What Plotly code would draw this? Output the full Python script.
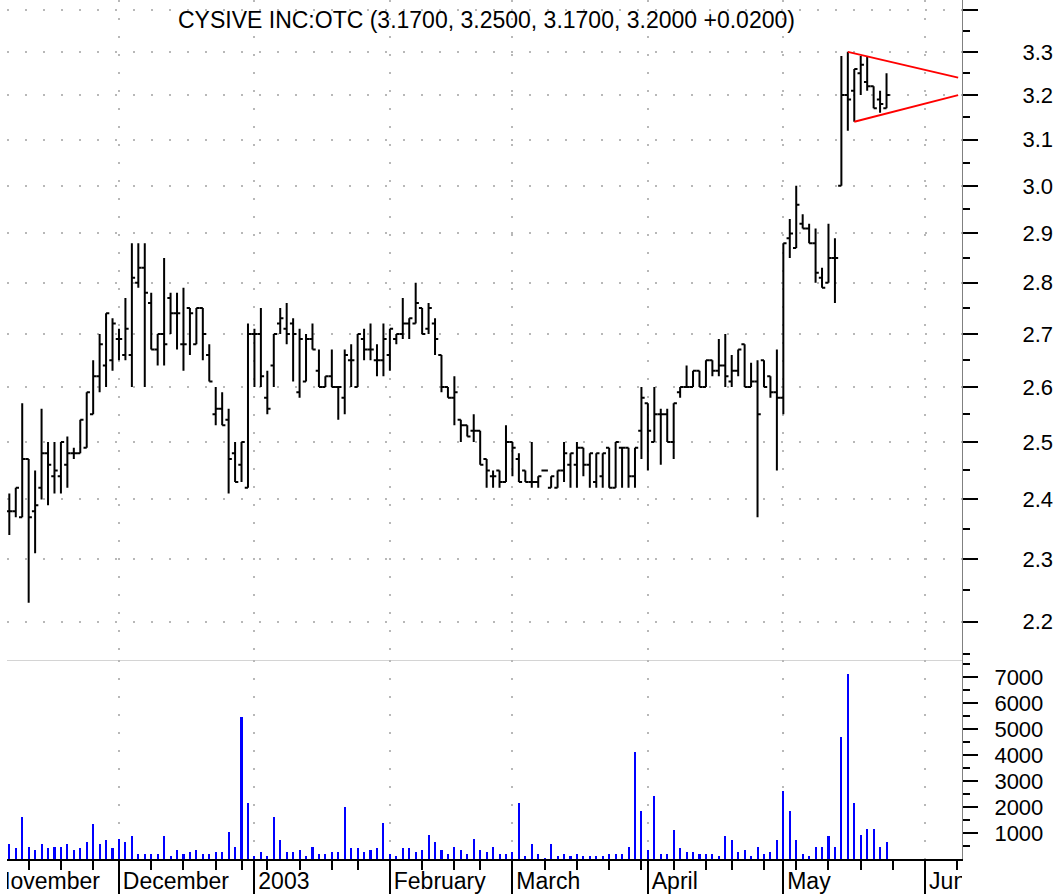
import numpy as np
import pandas as pd
import plotly.graph_objects as go

# ---------------- data ----------------
title_text = "CYSIVE INC:OTC (3.1700, 3.2500, 3.1700, 3.2000 +0.0200)"

first_date = "2002-11-06"
last_date = "2003-05-23"
calendar_start = "2002-11-01"
calendar_end = "2003-06-13"
holidays = ["2002-11-28", "2002-12-25", "2003-01-01", "2003-01-20", "2003-02-17", "2003-04-18"]

open_ = [2.38, 2.38, 2.37, 2.47, 2.38, 2.42, 2.48, 2.44, 2.44, 2.46,
         2.48, 2.48, 2.49, 2.55, 2.62, 2.64, 2.65, 2.69, 2.66, 2.66,
         2.80, 2.83, 2.76, 2.67, 2.70, 2.77, 2.74, 2.68, 2.75, 2.68,
         2.75, 2.66, 2.55, 2.56, 2.54, 2.48, 2.46, 2.42, 2.70, 2.70,
         2.58, 2.64, 2.72, 2.71, 2.72, 2.59, 2.61, 2.69, 2.63, 2.60,
         2.62, 2.60, 2.58, 2.65, 2.60, 2.69, 2.67, 2.65, 2.65, 2.66,
         2.69, 2.70, 2.72, 2.72, 2.75, 2.71, 2.72, 2.66, 2.60, 2.58,
         2.54, 2.53, 2.52, 2.52, 2.47, 2.44, 2.45, 2.43, 2.50, 2.47,
         2.45, 2.43, 2.43, 2.45, 2.42, 2.42, 2.45, 2.46, 2.46, 2.49,
         2.46, 2.43, 2.44, 2.49, 2.42, 2.49, 2.49, 2.44, 2.52, 2.57,
         2.50, 2.55, 2.55, 2.50, 2.59, 2.60, 2.60, 2.63, 2.60, 2.65,
         2.63, 2.64, 2.61, 2.63, 2.68, 2.60, 2.61, 2.65, 2.62, 2.59,
         2.58, 2.89, 2.87, 2.92, 2.91, 2.88, 2.81, 2.80, 2.85, 3.00,
         3.20, 3.21, 3.25, 3.23, 3.22, 3.19, 3.17]
high = [2.41, 2.42, 2.57, 2.47, 2.45, 2.56, 2.50, 2.50, 2.50, 2.51,
        2.49, 2.54, 2.59, 2.65, 2.70, 2.74, 2.73, 2.71, 2.77, 2.88,
        2.88, 2.88, 2.78, 2.70, 2.85, 2.78, 2.78, 2.79, 2.75, 2.75,
        2.75, 2.68, 2.60, 2.59, 2.56, 2.50, 2.50, 2.72, 2.71, 2.75,
        2.63, 2.70, 2.75, 2.76, 2.73, 2.71, 2.70, 2.72, 2.67, 2.62,
        2.67, 2.60, 2.67, 2.68, 2.70, 2.71, 2.72, 2.68, 2.72, 2.71,
        2.70, 2.77, 2.73, 2.80, 2.75, 2.76, 2.73, 2.66, 2.60, 2.62,
        2.54, 2.53, 2.55, 2.52, 2.47, 2.45, 2.45, 2.53, 2.50, 2.48,
        2.45, 2.50, 2.44, 2.45, 2.44, 2.45, 2.50, 2.48, 2.50, 2.49,
        2.48, 2.48, 2.48, 2.49, 2.50, 2.49, 2.49, 2.49, 2.60, 2.57,
        2.60, 2.56, 2.56, 2.57, 2.60, 2.64, 2.63, 2.63, 2.65, 2.65,
        2.69, 2.70, 2.66, 2.67, 2.68, 2.645, 2.65, 2.65, 2.62, 2.67,
        2.88, 2.93, 3.00, 2.94, 2.92, 2.91, 2.83, 2.92, 2.89, 3.29,
        3.30, 3.26, 3.29, 3.29, 3.22, 3.21, 3.25]
low = [2.34, 2.37, 2.37, 2.23, 2.31, 2.40, 2.39, 2.41, 2.41, 2.42,
       2.47, 2.48, 2.49, 2.55, 2.59, 2.60, 2.63, 2.65, 2.65, 2.60,
       2.79, 2.60, 2.67, 2.64, 2.64, 2.70, 2.67, 2.63, 2.66, 2.68,
       2.65, 2.61, 2.53, 2.53, 2.41, 2.43, 2.43, 2.42, 2.60, 2.60,
       2.55, 2.60, 2.70, 2.68, 2.61, 2.58, 2.61, 2.67, 2.60, 2.60,
       2.60, 2.54, 2.55, 2.60, 2.60, 2.65, 2.65, 2.62, 2.62, 2.63,
       2.68, 2.69, 2.69, 2.72, 2.70, 2.70, 2.66, 2.59, 2.58, 2.53,
       2.50, 2.51, 2.50, 2.46, 2.42, 2.42, 2.42, 2.43, 2.44, 2.43,
       2.43, 2.42, 2.42, 2.45, 2.42, 2.42, 2.43, 2.42, 2.42, 2.44,
       2.42, 2.42, 2.42, 2.42, 2.42, 2.42, 2.42, 2.42, 2.47, 2.45,
       2.50, 2.46, 2.50, 2.47, 2.58, 2.60, 2.60, 2.60, 2.60, 2.62,
       2.62, 2.60, 2.60, 2.62, 2.60, 2.60, 2.37, 2.60, 2.58, 2.45,
       2.55, 2.85, 2.87, 2.91, 2.88, 2.80, 2.79, 2.80, 2.76, 3.00,
       3.12, 3.14, 3.20, 3.21, 3.17, 3.16, 3.17]
close = [2.38, 2.42, 2.47, 2.37, 2.39, 2.48, 2.46, 2.45, 2.50, 2.48,
         2.48, 2.54, 2.59, 2.62, 2.68, 2.74, 2.72, 2.69, 2.71, 2.81,
         2.83, 2.78, 2.67, 2.70, 2.68, 2.74, 2.74, 2.68, 2.74, 2.75,
         2.70, 2.61, 2.56, 2.53, 2.47, 2.43, 2.50, 2.70, 2.70, 2.62,
         2.56, 2.70, 2.73, 2.70, 2.70, 2.69, 2.69, 2.67, 2.60, 2.62,
         2.60, 2.60, 2.66, 2.65, 2.70, 2.67, 2.67, 2.65, 2.69, 2.71,
         2.70, 2.72, 2.73, 2.76, 2.70, 2.75, 2.69, 2.60, 2.58, 2.59,
         2.53, 2.51, 2.52, 2.46, 2.45, 2.44, 2.43, 2.50, 2.49, 2.43,
         2.43, 2.43, 2.44, 2.45, 2.44, 2.45, 2.48, 2.48, 2.49, 2.46,
         2.48, 2.48, 2.48, 2.42, 2.50, 2.49, 2.44, 2.49, 2.58, 2.52,
         2.55, 2.55, 2.50, 2.57, 2.60, 2.60, 2.63, 2.60, 2.65, 2.63,
         2.64, 2.62, 2.63, 2.67, 2.60, 2.61, 2.55, 2.60, 2.59, 2.58,
         2.88, 2.90, 2.96, 2.91, 2.88, 2.82, 2.79, 2.85, 2.85, 3.20,
         3.19, 3.26, 3.27, 3.22, 3.17, 3.18, 3.20]
volume = [570, 420, 1630, 480, 330, 570, 420, 480, 480, 570,
          330, 420, 640, 1330, 570, 720, 420, 780, 640, 870,
          200, 200, 200, 200, 870, 120, 330, 200, 260, 330,
          200, 200, 260, 260, 1030, 480, 5460, 2150, 120, 260,
          120, 1630, 720, 260, 260, 330, 120, 480, 200, 200,
          260, 260, 2010, 420, 420, 260, 330, 420, 1400, 200,
          120, 420, 420, 260, 330, 940, 640, 330, 200, 480,
          330, 200, 780, 330, 260, 480, 200, 200, 260, 2150,
          120, 570, 200, 50, 570, 120, 200, 120, 200, 120,
          120, 120, 120, 200, 200, 200, 480, 4110, 1850, 330,
          2440, 200, 200, 1100, 420, 260, 260, 200, 200, 200,
          120, 870, 720, 260, 330, 120, 480, 200, 260, 720,
          2600, 1850, 720, 200, 120, 480, 480, 870, 480, 4690,
          7130, 2150, 940, 1170, 1170, 480, 640]

month_names = {11: "November", 12: "December", 1: "2003", 2: "February",
               3: "March", 4: "April", 5: "May", 6: "June"}

price_ticks = [2.2, 2.3, 2.4, 2.5, 2.6, 2.7, 2.8, 2.9, 3.0, 3.1, 3.2, 3.3, 3.4]
price_ticktext = ["2.2", "2.3", "2.4", "2.5", "2.6", "2.7", "2.8", "2.9",
                  "3.0", "3.1", "3.2", "3.3", ""]
price_minor = [2.15, 2.25, 2.35, 2.45, 2.55, 2.65, 2.75, 2.85, 2.95,
               3.05, 3.15, 3.25, 3.35]
volume_ticks = [1000, 2000, 3000, 4000, 5000, 6000, 7000]
volume_minor = [500, 1500, 2500, 3500, 4500, 5500, 6500, 7500]

# triangle trend lines (bar index, price)
trend_upper_x = [130, 147.1]
trend_upper_y = [3.30, 3.24]
trend_lower_x = [131, 147.1]
trend_lower_y = [3.14, 3.20]

price_range = [2.1417, 3.424]
volume_range = [0, 7673]
x_range = [-0.36, 147.7]
label_pad = 0.6   # gap between a month tick and its label, in bar units

# ---------------- calendar / axis positions ----------------
cal = pd.bdate_range(calendar_start, calendar_end)
hol = pd.to_datetime(holidays)
cal = cal[~cal.isin(hol)]
origin = cal.get_loc(pd.Timestamp(first_date))
cal_idx = np.arange(len(cal)) - origin
mask = (cal >= pd.Timestamp(first_date)) & (cal <= pd.Timestamp(last_date))
bar_x = cal_idx[mask]

months = cal.month.values
is_month_start = np.r_[True, months[1:] != months[:-1]]
week_key = (cal - pd.to_timedelta(cal.weekday, unit="D")).values
is_week_start = np.r_[True, week_key[1:] != week_key[:-1]]
month_x = cal_idx[is_month_start]
month_lab = [month_names[m] for m in months[is_month_start]]
week_x = [v for v in cal_idx[is_week_start & ~is_month_start]]

FONT = "Liberation Sans, Arial, Helvetica, sans-serif"
GRID = "#b8b8b8"
DASH = "2px,16px"

fig = go.Figure()

fig.add_trace(go.Ohlc(
    x=bar_x, open=open_, high=high, low=low, close=close,
    increasing=dict(line=dict(color="black", width=2)),
    decreasing=dict(line=dict(color="black", width=2)),
    tickwidth=0.5, xaxis="x", yaxis="y", showlegend=False, hoverinfo="skip"))

fig.add_trace(go.Scatter(x=trend_upper_x, y=trend_upper_y, mode="lines",
                         line=dict(color="#ff0000", width=2), xaxis="x", yaxis="y",
                         showlegend=False, hoverinfo="skip"))
fig.add_trace(go.Scatter(x=trend_lower_x, y=trend_lower_y, mode="lines",
                         line=dict(color="#ff0000", width=2), xaxis="x", yaxis="y",
                         showlegend=False, hoverinfo="skip"))

fig.add_trace(go.Bar(x=bar_x, y=volume, width=0.32,
                     marker=dict(color="#0000ff", line=dict(width=0)),
                     xaxis="x2", yaxis="y2", showlegend=False, hoverinfo="skip"))

fig.add_trace(go.Scatter(x=month_x + label_pad, y=[0.3] * len(month_x), mode="text",
                         text=month_lab, textposition="middle right",
                         textfont=dict(family=FONT, size=23, color="black"),
                         cliponaxis=True, xaxis="x3", yaxis="y3",
                         showlegend=False, hoverinfo="skip"))

H = 894.0
price_bottom = (H - 659.5) / H
vol_bottom = (H - 859.0) / H

fig.update_layout(
    width=1061, height=894,
    margin=dict(l=7, r=99, t=0, b=0),
    paper_bgcolor="white", plot_bgcolor="white",
    font=dict(family=FONT, size=22, color="black"),
    bargap=0,
    xaxis=dict(domain=[0, 1], anchor="y", range=x_range,
               tickmode="array", tickvals=month_x, showticklabels=False, ticks="",
               showgrid=True, gridcolor=GRID, gridwidth=2, griddash=DASH,
               showline=True, linecolor="#d4d4d4", linewidth=1,
               zeroline=False, rangeslider=dict(visible=False)),
    yaxis=dict(domain=[price_bottom, 1], anchor="x", side="right", type="log",
               range=[np.log10(price_range[0]), np.log10(price_range[1])],
               tickmode="array", tickvals=price_ticks, ticktext=price_ticktext,
               ticks="outside", ticklen=15, tickwidth=2, tickcolor="black",
               minor=dict(tickmode="array", tickvals=price_minor, ticks="outside",
                          ticklen=7, tickwidth=2, tickcolor="black", showgrid=False),
               showgrid=True, gridcolor=GRID, gridwidth=2, griddash=DASH,
               showline=True, linecolor="#808080", linewidth=1,
               zeroline=False, ticklabelstandoff=40,
               tickfont=dict(family=FONT, size=22, color="black")),
    xaxis2=dict(domain=[0, 1], anchor="y2", range=x_range, matches="x",
                tickmode="array", tickvals=month_x, showticklabels=False,
                ticks="outside", ticklen=35, tickwidth=2, tickcolor="black",
                minor=dict(tickmode="array", tickvals=week_x, ticks="outside",
                           ticklen=9, tickwidth=2, tickcolor="black", showgrid=False),
                showgrid=True, gridcolor=GRID, gridwidth=2, griddash=DASH,
                showline=True, linecolor="black", linewidth=2, zeroline=False),
    yaxis2=dict(domain=[vol_bottom, price_bottom], anchor="x2", side="right",
                range=volume_range,
                tickmode="array", tickvals=volume_ticks,
                ticks="outside", ticklen=15, tickwidth=2, tickcolor="black",
                minor=dict(tickmode="array", tickvals=volume_minor, ticks="outside",
                           ticklen=7, tickwidth=2, tickcolor="black", showgrid=False),
                showgrid=False, showline=True, linecolor="#808080", linewidth=1,
                zeroline=False, ticklabelstandoff=12,
                tickfont=dict(family=FONT, size=22, color="black")),
    xaxis3=dict(domain=[0, 1], anchor="y3", range=x_range, matches="x",
                visible=False, showgrid=False, zeroline=False),
    yaxis3=dict(domain=[0, vol_bottom], anchor="x3", range=[0, 1],
                visible=False, showgrid=False, zeroline=False),
    annotations=[dict(text=title_text, xref="paper", yref="paper",
                      x=0.5016, y=1 - 20 / H, xanchor="center", yanchor="middle",
                      showarrow=False, font=dict(family=FONT, size=23, color="black"))],
)

fig.write_html("out.html",
               config={"displayModeBar": False, "staticPlot": True},
               post_script="document.body.style.margin='0px';"
                           "document.body.style.overflow='hidden';")
